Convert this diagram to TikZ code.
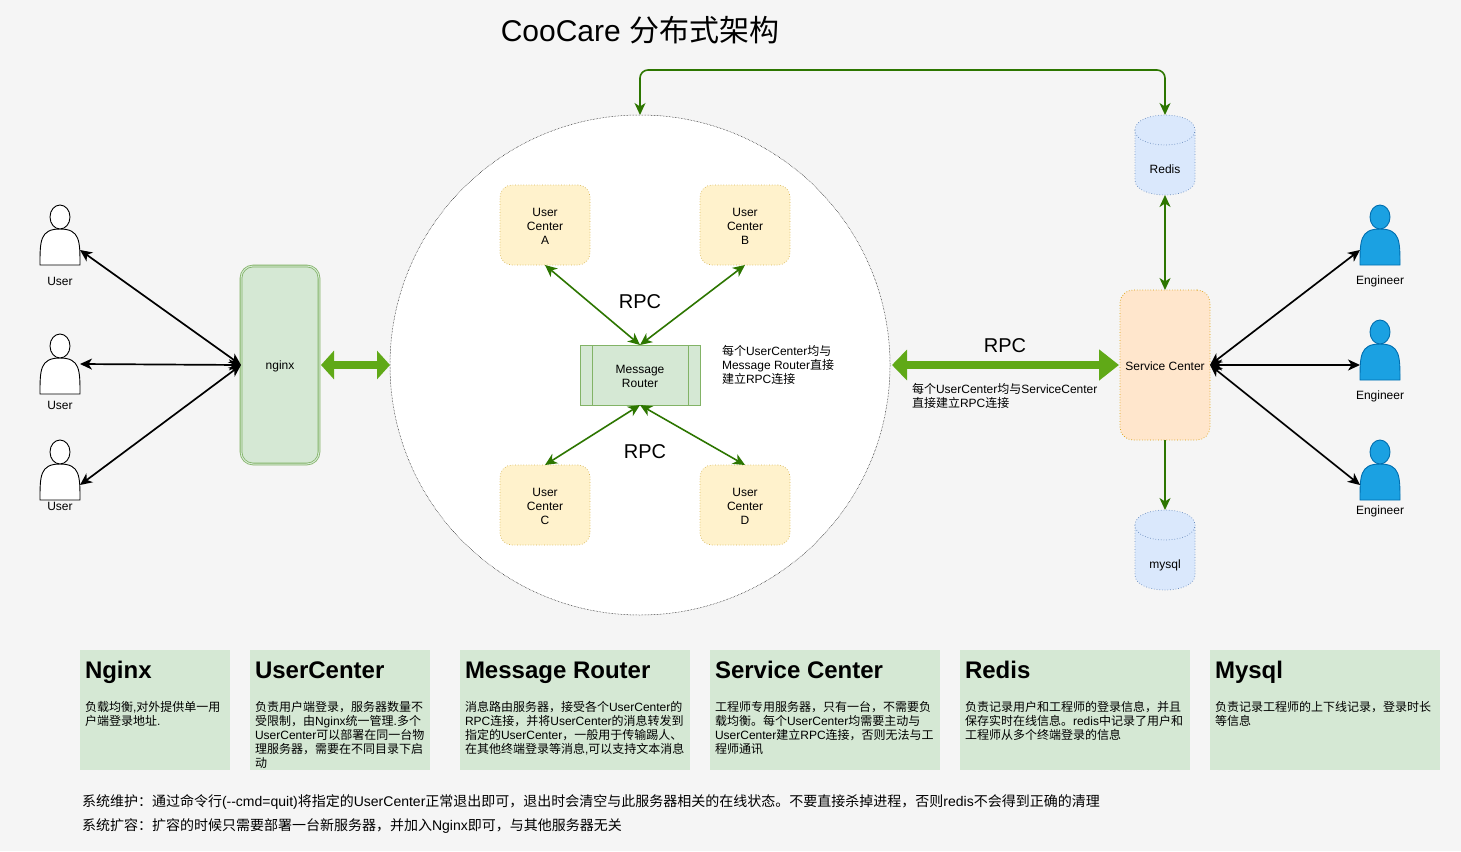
\documentclass[tikz,border=0pt]{standalone}
\usepackage{fontspec}
\setmainfont{Liberation Sans}
\newfontfamily\cjk{Noto Sans CJK SC}
\newcommand{\zh}[1]{{\cjk #1}}
\newcommand{\pad}{\rule{0pt}{10.7pt}}
\usetikzlibrary{arrows.meta}
\definecolor{pagegray}{HTML}{F5F5F5}
\definecolor{greenfill}{HTML}{D5E8D4}
\definecolor{greenline}{HTML}{82B366}
\definecolor{yellowfill}{HTML}{FFF2CC}
\definecolor{yellowline}{HTML}{D6B656}
\definecolor{orangefill}{HTML}{FFE6CC}
\definecolor{orangeline}{HTML}{D79B00}
\definecolor{bluefill}{HTML}{DAE8FC}
\definecolor{blueline}{HTML}{6C8EBF}
\definecolor{engfill}{HTML}{1BA1E2}
\definecolor{engline}{HTML}{006EAF}
\definecolor{linkdark}{HTML}{2D7600}
\definecolor{linkfat}{HTML}{60A917}
% person: name, left, top, style
\newcommand{\person}[4]{%
\node[personbox] (#1) at (#2+20,#3+30) {};
\coordinate (#1right) at (#2+40,#3+45);
\coordinate (#1left) at (#2,#3+45);
\draw[#4] (#2,#3+60) .. controls (#2,#3+36) and (#2,#3+24) .. (#2+20,#3+24)
 .. controls (#2+40,#3+24) and (#2+40,#3+36) .. (#2+40,#3+60) -- cycle;
\draw[#4] (#2+20,#3+12) ellipse (10pt and 12pt);
}
% database: name, left, top
\newcommand{\database}[3]{%
\node[dbbox] (#1) at (#2+30,#3+40) {};
\draw[dbline] (#2,#3+15) .. controls (#2,#3-5) and (#2+60,#3-5) .. (#2+60,#3+15)
 -- (#2+60,#3+65) .. controls (#2+60,#3+85) and (#2,#3+85) .. (#2,#3+65) -- cycle;
\draw[dbline] (#2,#3+15) .. controls (#2,#3+35) and (#2+60,#3+35) .. (#2+60,#3+15);
}
\begin{document}
\begin{tikzpicture}[x=1pt,y=-1pt,every node/.style={inner sep=0pt,outer sep=0pt},
tag/.style={font=\fontsize{12}{14}\selectfont,align=center},
note/.style={font=\fontsize{12}{14}\selectfont,align=left,anchor=north west},
rpc/.style={font=\fontsize{20}{24}\selectfont},
head/.style={font=\fontsize{24}{28}\selectfont\bfseries,anchor=base west},
card/.style={fill=greenfill,anchor=north west,minimum height=120pt},
ucbox/.style={draw=yellowline,dotted,line width=.7pt,fill=yellowfill,rounded corners=12pt,minimum width=90pt,minimum height=80pt,tag},
personbox/.style={minimum width=40pt,minimum height=60pt},
dbbox/.style={minimum width=60pt,minimum height=80pt},
dbline/.style={draw=blueline,dotted,line width=.7pt,fill=bluefill},
userline/.style={draw=black,fill=white,line width=.9pt},
engline/.style={draw=engline,fill=engfill,line width=.9pt},
black link/.style={{Stealth[length=12pt,width=11pt,inset=3.5pt]}-{Stealth[length=12pt,width=11pt,inset=3.5pt]},line width=1.7pt},
green link/.style={{Stealth[length=12pt,width=11pt,inset=3.5pt]}-{Stealth[length=12pt,width=11pt,inset=3.5pt]},draw=linkdark,line width=1.6pt}]
\fill[pagegray] (0,0) rectangle (1461,851);
\useasboundingbox (0,0) rectangle (1461,851);
\node[font=\fontsize{30}{36}\selectfont] (title) at (640,30) {CooCare \zh{分布式架构}};
% users
\person{userA}{40}{205}{userline}
\person{userB}{40}{334}{userline}
\person{userC}{40}{440}{userline}
\node[tag] (userAtext) at (60,281) {User};
\node[tag] (userBtext) at (60,405) {User};
\node[tag] (userCtext) at (60,506) {User};
\node[draw=greenline,double=greenfill,double distance=1pt,line width=.8pt,fill=greenfill,rounded corners=12pt,minimum width=78pt,minimum height=198pt,tag] (nginx) at (280,365) {\pad nginx};
\draw[black link] (userAright) -- (nginx.west);
\draw[black link] (userB.east) -- (nginx.west);
\draw[black link] (userCright) -- (nginx.west);
% ring with the message router
\node[circle,draw=black,densely dotted,line width=.5pt,fill=white,minimum size=500pt] (ring) at (640,365) {};
\draw[{Triangle[length=13pt,width=28pt]}-{Triangle[length=13pt,width=28pt]},draw=linkfat,line width=8pt,shorten <=2pt] (nginx.east) -- (ring.west);
\node[ucbox] (ucA) at (545,225) {\pad User\\Center\\A};
\node[ucbox] (ucB) at (745,225) {\pad User\\Center\\B};
\node[ucbox] (ucC) at (545,505) {\pad User\\Center\\C};
\node[ucbox] (ucD) at (745,505) {\pad User\\Center\\D};
\node[draw=greenline,fill=greenfill,minimum width=120pt,minimum height=60pt,tag] (router) at (640,375) {\pad Message\\Router};
\draw[greenline] ([xshift=12pt]router.north west) -- ([xshift=12pt]router.south west);
\draw[greenline] ([xshift=-12pt]router.north east) -- ([xshift=-12pt]router.south east);
\draw[green link] (ucA.south) -- (router.north);
\draw[green link] (ucB.south) -- (router.north);
\draw[green link] (ucC.north) -- (router.south);
\draw[green link] (ucD.north) -- (router.south);
\node[rpc] (rpcTop) at (640,302) {RPC};
\node[rpc] (rpcLow) at (645,452) {RPC};
\node[note] (routerNote) at (722,345) {\zh{每个}UserCenter\zh{均与}\\Message Router\zh{直接}\\\zh{建立}RPC\zh{连接}};
% right side
\node[draw=orangeline,dotted,line width=.7pt,fill=orangefill,rounded corners=13pt,minimum width=90pt,minimum height=150pt,tag] (service) at (1165,365) {\pad Service Center};
\draw[{Triangle[length=15pt,width=30pt]}-{Triangle[length=20pt,width=30pt]},draw=linkfat,line width=8pt,shorten <=2pt,shorten >=1pt] (ring.east) -- (service.west);
\node[rpc] (rpcRight) at (1005,346) {RPC};
\node[note] (serviceNote) at (912,383) {\zh{每个}UserCenter\zh{均与}ServiceCenter\\\zh{直接建立}RPC\zh{连接}};
\database{redis}{1135}{115}
\database{mysql}{1135}{510}
\node[tag] (redisText) at (1165,169) {Redis};
\node[tag] (mysqlText) at (1165,565) {mysql};
\draw[green link,rounded corners=8pt] (ring.north) -- ++(0,-45) -| (redis.north);
\draw[green link] (redis.south) -- (service.north);
\draw[-{Stealth[length=12pt,width=11pt,inset=3.5pt]},draw=linkdark,line width=1.6pt] (service.south) -- (mysql.north);
\person{engA}{1360}{205}{engline}
\person{engB}{1360}{320}{engline}
\person{engC}{1360}{440}{engline}
\node[tag] (engAtext) at (1380,281) {Engineer};
\node[tag] (engBtext) at (1380,396) {Engineer};
\node[tag] (engCtext) at (1380,511) {Engineer};
\draw[black link] (service.east) -- (engAleft);
\draw[black link] (service.east) -- (engBleft);
\draw[black link] (service.east) -- (engCleft);
% cards
\node[card,minimum width=150pt] (cardNginx) at (80,650) {};
\node[card,minimum width=180pt] (cardUser) at (250,650) {};
\node[card,minimum width=230pt] (cardRouter) at (460,650) {};
\node[card,minimum width=230pt] (cardService) at (710,650) {};
\node[card,minimum width=230pt] (cardRedis) at (960,650) {};
\node[card,minimum width=230pt] (cardMysql) at (1210,650) {};
\node[head] (headNginx) at (85,678) {Nginx};
\node[head] (headUser) at (255,678) {UserCenter};
\node[head] (headRouter) at (465,678) {Message Router};
\node[head] (headService) at (715,678) {Service Center};
\node[head] (headRedis) at (965,678) {Redis};
\node[head] (headMysql) at (1215,678) {Mysql};
\node[note] (textNginx) at (85,701) {\zh{负载均衡}{,}\zh{对外提供单一用}\\\zh{户端登录地址}.};
\node[note] (textUser) at (255,701) {\zh{负责用户端登录，服务器数量不}\\\zh{受限制，由}Nginx\zh{统一管理}.\zh{多个}\\UserCenter\zh{可以部署在同一台物}\\\zh{理服务器，需要在不同目录下启}\\\zh{动}};
\node[note] (textRouter) at (465,701) {\zh{消息路由服务器，接受各个}UserCenter\zh{的}\\RPC\zh{连接，并将}UserCenter\zh{的消息转发到}\\\zh{指定的}UserCenter\zh{，一般用于传输踢人、}\\\zh{在其他终端登录等消息}{,}\zh{可以支持文本消息}};
\node[note] (textService) at (715,701) {\zh{工程师专用服务器，只有一台，不需要负}\\\zh{载均衡。每个}UserCenter\zh{均需要主动与}\\UserCenter\zh{建立}RPC\zh{连接，否则无法与工}\\\zh{程师通讯}};
\node[note] (textRedis) at (965,701) {\zh{负责记录用户和工程师的登录信息，并且}\\\zh{保存实时在线信息。}redis\zh{中记录了用户和}\\\zh{工程师从多个终端登录的信息}};
\node[note] (textMysql) at (1215,701) {\zh{负责记录工程师的上下线记录，登录时长}\\\zh{等信息}};
% bottom lines
\node[font=\fontsize{14}{16}\selectfont,anchor=west] (upkeep) at (82,802) {\zh{系统维护：通过命令行}(-{}-cmd=quit)\zh{将指定的}UserCenter\zh{正常退出即可，退出时会清空与此服务器相关的在线状态。不要直接杀掉进程，否则}redis\zh{不会得到正确的清理}};
\node[font=\fontsize{14}{16}\selectfont,anchor=west] (scaling) at (82,826) {\zh{系统扩容：扩容的时候只需要部署一台新服务器，并加入}Nginx\zh{即可，与其他服务器无关}};
\end{tikzpicture}
\end{document}
